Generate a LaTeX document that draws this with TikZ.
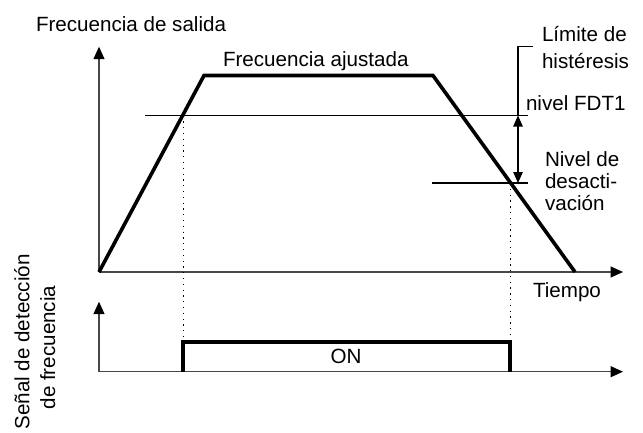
\documentclass[tikz,border=0pt]{standalone}
\usepackage{fontspec}
\setmainfont{Liberation Sans}
\usetikzlibrary{arrows.meta}
\begin{document}
\begin{tikzpicture}[x=1pt,y=-1pt,
  lbl/.style={font=\fontsize{20.6}{25}\selectfont, inner sep=0pt, outer sep=0pt},
  axis/.style={line width=1.4pt, draw=black!72, -{Triangle[length=12.5pt,width=11pt,color=black]}},
  curve/.style={line width=3.6pt, line join=miter},
  level/.style={line width=1.1pt},
  dots/.style={line width=1pt, dash pattern=on 1.3pt off 4.5pt},
  dblarrow/.style={line width=1.1pt, {Triangle[length=11pt,width=9.5pt]}-{Triangle[length=11pt,width=9.5pt]}}]
\useasboundingbox (0,0) rectangle (643,432);
% coordinates
\coordinate (O1) at (99,272);
\coordinate (Y1) at (99,46.7);
\coordinate (X1) at (623,272);
\coordinate (O2) at (99,371.7);
\coordinate (Y2) at (99,301.7);
\coordinate (X2) at (623,371.7);
\coordinate (A) at (204,75.5);
\coordinate (B) at (433,75.5);
\coordinate (C) at (575,272);
\coordinate (F0) at (145,115.5);
\coordinate (F1) at (528,115.5);
\coordinate (D0) at (432,183);
\coordinate (D1) at (528,183);
\coordinate (P1) at (183,115.5);
\coordinate (P2) at (510,183);
\coordinate (Q1) at (183,342);
\coordinate (Q2) at (510,342);
\coordinate (R1) at (183,371.7);
\coordinate (R2) at (510,371.7);
\coordinate (H0) at (533,46.7);
\coordinate (H1) at (518,46.7);
\coordinate (H2) at (518,115.5);
\coordinate (H3) at (518,183);
% axes
\draw[axis] (O1) -- (Y1);
\draw[axis] (O1) -- (X1);
\draw[axis] (O2) -- (Y2);
\draw[axis] (O2) -- (X2);
% levels
\draw[level] (F0) -- (F1);
\draw[level] (D0) -- (D1);
\draw[level] (H0) -- (H1) -- (H2);
\draw[dblarrow] (H2) -- (H3);
% dotted
\draw[dots] (P1) -- (Q1);
\draw[dots] (P2) -- (Q2);
% curve
\draw[curve] (O1) -- (A) -- (B) -- (C);
% pulse
\draw[curve] (R1) -- (Q1) -- (Q2) -- (R2);
% labels
\node[lbl, anchor=base west] (tfs) at (36,31.7) {Frecuencia de salida};
\node[lbl, anchor=base west] (tfa) at (223,66.7) {Frecuencia ajustada};
\node[lbl, anchor=base west] (tl1) at (542,41.7) {Límite de};
\node[lbl, anchor=base west] (tl2) at (542,68.3) {histéresis};
\node[lbl, anchor=base west] (tfdt) at (526,110) {nivel FDT1};
\node[lbl, anchor=base west] (tn1) at (545,166.7) {Nivel de};
\node[lbl, anchor=base west] (tn2) at (545,188.3) {desacti-};
\node[lbl, anchor=base west] (tn3) at (545,210) {vación};
\node[lbl, anchor=base west] (tt) at (533,297) {Tiempo};
\node[lbl, anchor=base] (ton) at (346,363) {ON};
\node[lbl, anchor=base, rotate=90] (ts1) at (29.3,342) {Señal de detección};
\node[lbl, anchor=base, rotate=90] (ts2) at (55,347.5) {de frecuencia};
\end{tikzpicture}
\end{document}
